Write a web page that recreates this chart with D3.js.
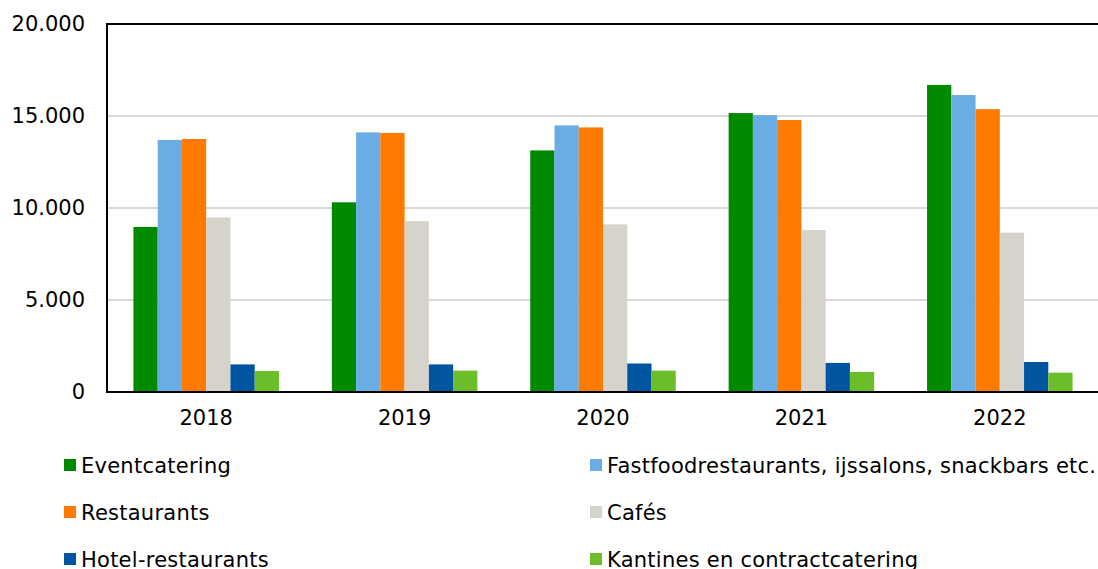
<!DOCTYPE html>
<html>
<head>
<meta charset="utf-8">
<script src="https://cdn.jsdelivr.net/npm/d3@7"></script>
<style>
  html, body { margin: 0; padding: 0; background: #fff; }
  svg { display: block; font-family: "DejaVu Sans", Verdana, sans-serif; }
</style>
</head>
<body>
<svg id="chart" width="1098" height="569"></svg>
<script>
const years = ["2018", "2019", "2020", "2021", "2022"];
const seriesNames = [
  "Eventcatering",
  "Fastfoodrestaurants, ijssalons, snackbars etc.",
  "Restaurants",
  "Cafés",
  "Hotel-restaurants",
  "Kantines en contractcatering"
];
const eventcatering = [8970, 10310, 13130, 15160, 16690];
const fastfood      = [13700, 14110, 14490, 15040, 16140];
const restaurants   = [13750, 14080, 14380, 14780, 15370];
const cafes         = [9490, 9290, 9110, 8800, 8660];
const hotelRest     = [1500, 1500, 1550, 1580, 1630];
const kantines      = [1140, 1160, 1160, 1090, 1050];
const yTicks = [0, 5000, 10000, 15000, 20000];
const colors = ["#008a00", "#6aade4", "#ff7a00", "#d6d3cb", "#0055a0", "#6bbe2a"];

const seriesValues = [eventcatering, fastfood, restaurants, cafes, hotelRest, kantines];

const svg = d3.select("#chart");
const mLeft = 107, mRight = 1099, mTop = 24, mBottom = 392;

const x0 = d3.scaleBand().domain(years).range([mLeft, mRight]).padding(0);
const x1 = d3.scaleBand().domain(seriesNames).range([0, x0.bandwidth()])
  .paddingInner(0).paddingOuter(1.09);
const y = d3.scaleLinear().domain([0, 20000]).range([mBottom, mTop]);
const color = d3.scaleOrdinal().domain(seriesNames).range(colors);

const fmt = v => d3.format(",")(v).replace(/,/g, ".");

// gridlines
svg.append("g")
  .selectAll("line")
  .data(yTicks.filter(t => t > 0 && t < 20000))
  .join("line")
  .attr("x1", mLeft).attr("x2", 1098)
  .attr("y1", d => y(d)).attr("y2", d => y(d))
  .attr("stroke", "#d9d9d9").attr("stroke-width", 2);

// bars
const groups = svg.append("g")
  .selectAll("g")
  .data(years)
  .join("g")
  .attr("transform", d => `translate(${x0(d)},0)`);

groups.selectAll("rect")
  .data((yr, i) => seriesNames.map((s, j) => ({ s, v: seriesValues[j][i] })))
  .join("rect")
  .attr("x", d => x1(d.s))
  .attr("width", x1.bandwidth())
  .attr("y", d => y(d.v))
  .attr("height", d => y(0) - y(d.v))
  .attr("fill", d => color(d.s));

// y axis
const yAxis = d3.axisLeft(y).tickValues(yTicks).tickFormat(fmt).tickSize(0).tickPadding(22);
const gy = svg.append("g").attr("transform", `translate(${mLeft},0)`).call(yAxis);
gy.select(".domain").remove();
gy.selectAll("text").attr("font-size", 21).attr("fill", "#000")
  .attr("font-family", "DejaVu Sans, Verdana, sans-serif");

// x axis
const xAxis = d3.axisBottom(x0).tickSize(0).tickPadding(18);
const gx = svg.append("g").attr("transform", `translate(0,${mBottom})`).call(xAxis);
gx.select(".domain").remove();
gx.selectAll("text").attr("font-size", 21).attr("fill", "#000")
  .attr("font-family", "DejaVu Sans, Verdana, sans-serif");

// frame lines
svg.append("line").attr("x1", mLeft).attr("x2", mLeft).attr("y1", mTop - 1).attr("y2", mBottom + 1)
  .attr("stroke", "#000").attr("stroke-width", 2);
svg.append("line").attr("x1", mLeft - 1).attr("x2", 1098).attr("y1", mBottom).attr("y2", mBottom)
  .attr("stroke", "#000").attr("stroke-width", 2);
svg.append("line").attr("x1", mLeft - 1).attr("x2", 1098).attr("y1", mTop).attr("y2", mTop)
  .attr("stroke", "#000").attr("stroke-width", 2);

// legend
const legend = svg.append("g")
  .selectAll("g")
  .data(seriesNames)
  .join("g")
  .attr("transform", (d, i) => `translate(${i % 2 === 0 ? 64 : 590},${459 + Math.floor(i / 2) * 47})`);
legend.append("rect").attr("width", 12).attr("height", 12).attr("fill", d => color(d));
legend.append("text").attr("x", 17).attr("y", 14).attr("font-size", 21)
  .attr("letter-spacing", 0.25).attr("fill", "#000")
  .text(d => d);
</script>
</body>
</html>
